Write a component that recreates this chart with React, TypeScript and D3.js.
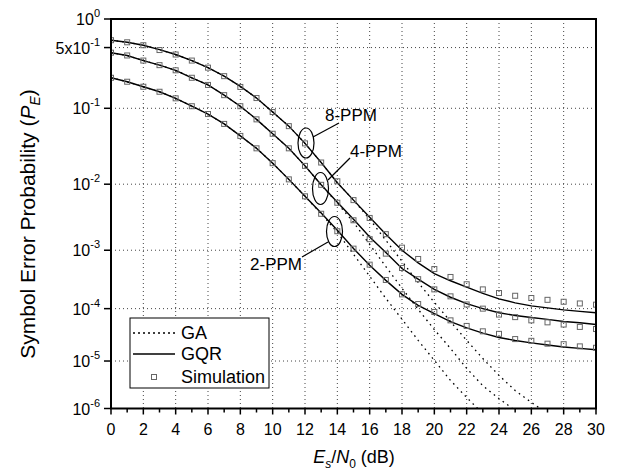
import React from "react";
import * as d3 from "d3";

// Es/N0 grid of the simulation and GQR curves (dB)
const snrDb = [0, 1, 2, 3, 4, 5, 6, 7, 8, 9, 10, 11, 12, 13, 14, 15, 16, 17, 18, 19, 20, 21, 22, 23, 24, 25, 26, 27, 28, 29, 30];

const gqr8 = [0.6, 0.57, 0.53, 0.475, 0.42, 0.36, 0.3, 0.24, 0.183, 0.133, 0.09, 0.06, 0.036, 0.02, 0.0105, 5.9e-3, 3.28e-3, 1.79e-3, 1.0e-3, 6.2e-4, 4.1e-4, 3.1e-4, 2.4e-4, 1.87e-4, 1.5e-4, 1.27e-4, 1.12e-4, 1.03e-4, 9.5e-5, 8.9e-5, 8.4e-5];
const gqr4 = [0.44, 0.41, 0.36, 0.32, 0.28, 0.23, 0.19, 0.144, 0.106, 0.073, 0.048, 0.031, 0.018, 9.8e-3, 5.5e-3, 3.06e-3, 1.63e-3, 9.2e-4, 5.0e-4, 3.3e-4, 2.2e-4, 1.6e-4, 1.23e-4, 1.0e-4, 8.4e-5, 7.5e-5, 6.9e-5, 6.35e-5, 5.8e-5, 5.5e-5, 5.1e-5];
const gqr2 = [0.23, 0.207, 0.181, 0.158, 0.132, 0.106, 0.085, 0.064, 0.045, 0.031, 0.0196, 0.0117, 6.7e-3, 3.8e-3, 2.07e-3, 1.07e-3, 5.65e-4, 3.15e-4, 1.8e-4, 1.15e-4, 8.1e-5, 5.8e-5, 4.4e-5, 3.5e-5, 2.9e-5, 2.54e-5, 2.28e-5, 2.08e-5, 1.9e-5, 1.78e-5, 1.67e-5];

const sim8 = [0.6, 0.57, 0.53, 0.47, 0.42, 0.36, 0.3, 0.24, 0.18, 0.133, 0.09, 0.06, 0.036, 0.02, 0.011, 5.9e-3, 3.2e-3, 1.8e-3, 1.1e-3, 7.2e-4, 4.9e-4, 3.6e-4, 2.7e-4, 2.2e-4, 1.9e-4, 1.7e-4, 1.55e-4, 1.44e-4, 1.33e-4, 1.24e-4, 1.18e-4];
const sim4 = [0.44, 0.41, 0.36, 0.32, 0.28, 0.23, 0.19, 0.144, 0.106, 0.073, 0.048, 0.031, 0.018, 9.8e-3, 5.4e-3, 2.95e-3, 1.5e-3, 8.8e-4, 5.1e-4, 3.3e-4, 2.2e-4, 1.66e-4, 1.19e-4, 1.0e-4, 7.8e-5, 7.0e-5, 6.1e-5, 5.6e-5, 5.1e-5, 4.6e-5, 4.2e-5];
const sim2 = [0.23, 0.207, 0.181, 0.158, 0.132, 0.106, 0.085, 0.064, 0.045, 0.031, 0.0196, 0.0117, 6.7e-3, 3.7e-3, 2.0e-3, 1.06e-3, 5.8e-4, 3.2e-4, 1.8e-4, 1.21e-4, 8.7e-5, 6.1e-5, 4.8e-5, 3.8e-5, 3.4e-5, 2.7e-5, 2.5e-5, 2.2e-5, 2.15e-5, 1.95e-5, 1.83e-5];

// Gaussian approximation, runs until it drops under 1e-6
const ga8 = [0.6, 0.57, 0.53, 0.475, 0.42, 0.36, 0.3, 0.24, 0.183, 0.133, 0.09, 0.06, 0.036, 0.02, 0.0105, 5.9e-3, 3.06e-3, 1.44e-3, 6.6e-4, 2.9e-4, 1.3e-4, 5.8e-5, 2.55e-5, 1.12e-5, 5.1e-6, 2.45e-6, 1.36e-6, 7.7e-7];
const ga4 = [0.44, 0.41, 0.36, 0.32, 0.28, 0.23, 0.19, 0.144, 0.106, 0.073, 0.048, 0.031, 0.018, 9.8e-3, 5.3e-3, 2.75e-3, 1.24e-3, 5.4e-4, 2.3e-4, 9.7e-5, 4.1e-5, 1.78e-5, 7.1e-6, 3.1e-6, 1.65e-6, 9.0e-7, 4.6e-7];
const ga2 = [0.23, 0.207, 0.181, 0.158, 0.132, 0.106, 0.085, 0.064, 0.045, 0.031, 0.0196, 0.0117, 6.7e-3, 3.7e-3, 1.93e-3, 8.6e-4, 3.7e-4, 1.53e-4, 6.4e-5, 2.55e-5, 1.03e-5, 4.0e-6, 1.74e-6, 7.7e-7];

const xTicks = [0, 2, 4, 6, 8, 10, 12, 14, 16, 18, 20, 22, 24, 26, 28, 30];
const xMinor = [1, 3, 5, 7, 9, 11, 13, 15, 17, 19, 21, 23, 25, 27, 29];
const yTicks = [1, 0.5, 0.1, 0.01, 1e-3, 1e-4, 1e-5, 1e-6];
const yTickBase = ["10", "5x10", "10", "10", "10", "10", "10", "10"];
const yTickExp = ["0", "-1", "-1", "-2", "-3", "-4", "-5", "-6"];

const legendItems = ["GA", "GQR", "Simulation"];

const W = 621;
const H = 473;
const left = 111;
const right = 596;
const top = 19;
const bottom = 408.5;
const font = "'Liberation Sans', Arial, Helvetica, sans-serif";

const x = d3.scaleLinear().domain([0, 30]).range([left, right]);
// the printed axis squeezes the lower decades: linear in ln(C - log10 P)
const C = 5.2;
const yT = d3.scaleLinear().domain([Math.log(C), Math.log(C + 6)]).range([top, bottom]);
const y = (p: number) => yT(Math.log(C - Math.log10(p)));

const line = d3
  .line<number>()
  .x((d, i) => x(i))
  .y((d) => y(d));

export default function App() {
  const series = [
    { gqr: gqr8, ga: ga8, sim: sim8 },
    { gqr: gqr4, ga: ga4, sim: sim4 },
    { gqr: gqr2, ga: ga2, sim: sim2 },
  ];
  const sq = 5;
  const legendY = [333, 354, 377];

  return (
    <svg
      width={W}
      height={H}
      style={{ position: "absolute", left: 0, top: 0, background: "#fff" }}
      fontFamily={font}
    >
      <defs>
        <clipPath id="plot">
          <rect x={left} y={top} width={right - left} height={bottom - top} />
        </clipPath>
      </defs>

      {/* grid */}
      <g stroke="#444" strokeWidth={1} strokeDasharray="1,3">
        {xTicks.slice(1, -1).map((t) => (
          <line key={t} x1={x(t)} x2={x(t)} y1={top} y2={bottom} />
        ))}
        {yTicks.slice(1, -1).map((t) => (
          <line key={t} x1={left} x2={right} y1={y(t)} y2={y(t)} />
        ))}
      </g>

      <g clipPath="url(#plot)" fill="none">
        {series.map((s, i) => (
          <path key={"ga" + i} d={line(s.ga) || ""} stroke="#000" strokeWidth={1.3} strokeDasharray="1.6,4" />
        ))}
        {series.map((s, i) => (
          <path key={"gqr" + i} d={line(s.gqr) || ""} stroke="#000" strokeWidth={1.4} />
        ))}
        {series.map((s, i) =>
          s.sim.map((v, j) => (
            <rect
              key={i + "-" + j}
              x={x(snrDb[j]) - sq / 2}
              y={y(v) - sq / 2}
              width={sq}
              height={sq}
              stroke="#666"
              strokeWidth={1}
            />
          ))
        )}
      </g>

      {/* ellipses + labels */}
      <g fill="none" stroke="#000" strokeWidth={1.2}>
        <ellipse cx={306} cy={143} rx={8} ry={15} />
        <line x1={313} y1={137} x2={339} y2={123} />
        <ellipse cx={320.5} cy={188.5} rx={8} ry={16} />
        <line x1={328} y1={180} x2={350} y2={158} />
        <ellipse cx={334.5} cy={231.5} rx={8} ry={15} />
        <line x1={328} y1={242} x2={302} y2={257} />
      </g>
      <g fontSize={17} fill="#000">
        <text x={325} y={121}>8-PPM</text>
        <text x={350} y={157}>4-PPM</text>
        <text x={302} y={270} textAnchor="end">2-PPM</text>
      </g>

      {/* frame */}
      <rect x={left} y={top} width={right - left} height={bottom - top} fill="none" stroke="#000" strokeWidth={2} />

      {/* ticks */}
      <g stroke="#000" strokeWidth={1.5}>
        {xTicks.map((t) => (
          <line key={t} x1={x(t)} x2={x(t)} y1={bottom} y2={bottom + 6} />
        ))}
        {xMinor.map((t) => (
          <line key={t} x1={x(t)} x2={x(t)} y1={bottom} y2={bottom + 4} />
        ))}
        {yTicks.map((t) => (
          <line key={t} x1={left - 7} x2={left} y1={y(t)} y2={y(t)} />
        ))}
      </g>
      <g fontSize={16} fill="#000" textAnchor="middle">
        {xTicks.map((t) => (
          <text key={t} x={x(t)} y={435}>
            {t}
          </text>
        ))}
      </g>
      <g fontSize={16} fill="#000" textAnchor="end">
        {yTicks.map((t, i) => (
          <text key={t} x={100} y={y(t) + 6}>
            {yTickBase[i]}
            <tspan dy={-8} fontSize={11}>
              {yTickExp[i]}
            </tspan>
          </text>
        ))}
      </g>

      {/* axis titles */}
      <text x={354} y={463} fontSize={18} textAnchor="middle" fill="#000">
        <tspan fontStyle="italic">E</tspan>
        <tspan dy={5} fontSize={12} fontStyle="italic">s</tspan>
        <tspan dy={-5}>/</tspan>
        <tspan fontStyle="italic">N</tspan>
        <tspan dy={5} fontSize={12}>0</tspan>
        <tspan dy={-5}> (dB)</tspan>
      </text>
      <text transform="translate(35,224) rotate(-90)" fontSize={21} textAnchor="middle" fill="#000">
        Symbol Error Probability (<tspan fontStyle="italic">P</tspan>
        <tspan dy={5} fontSize={14} fontStyle="italic">E</tspan>
        <tspan dy={-5}>)</tspan>
      </text>

      {/* legend */}
      <rect x={130} y={318} width={139} height={70} fill="#fff" stroke="#000" strokeWidth={1} />
      <line x1={133} x2={175} y1={legendY[0]} y2={legendY[0]} stroke="#000" strokeWidth={1.3} strokeDasharray="2,3" />
      <line x1={133} x2={175} y1={legendY[1]} y2={legendY[1]} stroke="#000" strokeWidth={1.4} />
      <rect x={154 - sq / 2} y={legendY[2] - sq / 2} width={sq} height={sq} fill="none" stroke="#666" />
      <g fontSize={18} fill="#000">
        {legendItems.map((d, i) => (
          <text key={d} x={181} y={legendY[i] + 6}>
            {d}
          </text>
        ))}
      </g>
    </svg>
  );
}
